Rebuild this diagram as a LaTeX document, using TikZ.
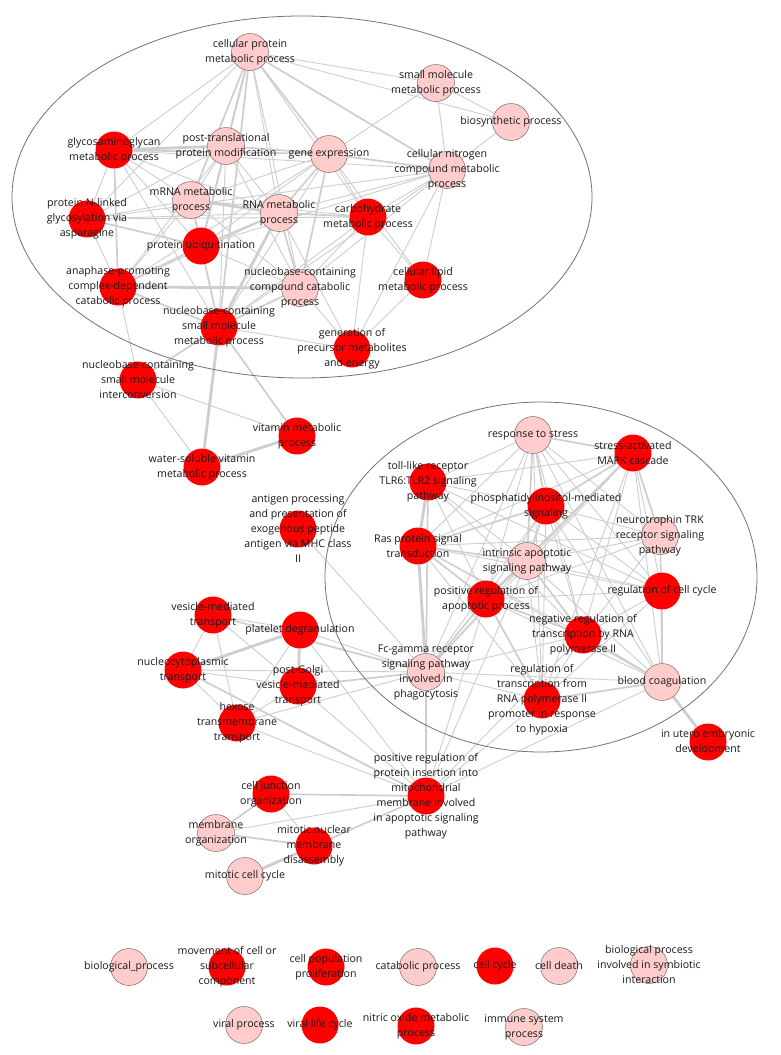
\documentclass[tikz,border=0pt]{standalone}
\usepackage{fontspec}
\setmainfont{Open Sans}
\pgfdeclarelayer{bg}
\pgfdeclarelayer{fg}
\pgfsetlayers{bg,main,fg}
\definecolor{pinkc}{RGB}{255,204,204}
\definecolor{redc}{RGB}{255,0,0}
\definecolor{bordc}{RGB}{120,110,110}
\definecolor{edgec}{RGB}{206,206,206}
\definecolor{ellc}{RGB}{115,115,115}
\definecolor{txtc}{RGB}{25,25,25}
\tikzset{
 pk/.style={circle, minimum size=37pt, inner sep=0pt, fill=pinkc, draw=bordc, line width=0.5pt},
 rd/.style={circle, minimum size=37pt, inner sep=0pt, fill=redc},
 lab/.style={align=center, font=\fontsize{10.6}{15}\selectfont, text=txtc, inner sep=0pt},
 e/.style={draw=edgec, line width=0.9pt},
 em/.style={draw=edgec, line width=1.7pt},
 et/.style={draw=edgec, line width=2.8pt},
 grp/.style={draw=ellc, line width=0.8pt}
}
\newcommand\nd[5]{\node[#4] (#1) at (#2,#3) {};
 \begin{pgfonlayer}{fg}\node[lab] (#1t) at (#2,#3) {#5};\end{pgfonlayer}}
\begin{document}
\begin{tikzpicture}[x=1pt,y=-1pt]
\begin{pgfonlayer}{bg}
\fill[white] (0,0) rectangle (780,1055);
\end{pgfonlayer}
\useasboundingbox (0,0) rectangle (780,1055);
% ---- top cluster
\nd{cpm}{250}{52}{pk}{cellular protein\\metabolic process}
\nd{smm}{436}{83}{pk}{small molecule\\metabolic process}
\nd{bio}{511}{122}{pk}{biosynthetic process}
\nd{cnc}{447}{170}{pk}{cellular nitrogen\\compound metabolic\\process}
\nd{gag}{114}{150}{rd}{glycosaminoglycan\\metabolic process}
\nd{ptm}{226}{146}{pk}{post-translational\\protein modification}
\nd{gex}{329}{154}{pk}{gene expression}
\nd{mrna}{191}{200}{pk}{mRNA metabolic\\process}
\nd{rna}{279}{213}{pk}{RNA metabolic\\process}
\nd{carb}{368}{217}{rd}{carbohydrate\\metabolic process}
\nd{pnl}{87}{219}{rd}{protein N-linked\\glycosylation via\\asparagine}
\nd{pub}{201}{246}{rd}{protein ubiquitination}
\nd{apc}{118}{287}{rd}{anaphase-promoting\\complex-dependent\\catabolic process}
\nd{ncc}{300}{288}{pk}{nucleobase-containing\\compound catabolic\\process}
\nd{clm}{423}{280}{rd}{cellular lipid\\metabolic process}
\nd{nsm}{219}{327}{rd}{nucleobase-containing\\small molecule\\metabolic process}
\nd{gpm}{352}{349}{rd}{generation of\\precursor metabolites\\and energy}
% ---- outside top
\nd{nsi}{138}{380}{rd}{nucleobase-containing\\small molecule\\interconversion}
\nd{vit}{297}{436}{rd}{vitamin metabolic\\process}
\nd{wsv}{202}{467}{rd}{water-soluble vitamin\\metabolic process}
\nd{agp}{298}{529}{rd}{antigen processing\\and presentation of\\exogenous peptide\\antigen via MHC class\\II}
% ---- second cluster
\nd{rts}{533}{435}{pk}{response to stress}
\nd{sam}{633}{453}{rd}{stress-activated\\MAPK cascade}
\nd{tlr}{428}{482}{rd}{toll-like receptor\\TLR6:TLR2 signaling\\pathway}
\nd{pims}{546}{506}{rd}{phosphatidylinositol-mediated\\signaling}
\nd{ntrk}{660}{536}{pk}{neurotrophin TRK\\receptor signaling\\pathway}
\nd{ras}{418}{546}{rd}{Ras protein signal\\transduction}
\nd{iap}{527}{561}{pk}{intrinsic apoptotic\\signaling pathway}
\nd{pra}{486}{599}{rd}{positive regulation of\\apoptotic process}
\nd{rcc}{662}{591}{rd}{regulation of cell cycle}
\nd{nrt}{583}{635}{rd}{negative regulation of\\transcription by RNA\\polymerase II}
\nd{fcg}{426}{672}{pk}{Fc-gamma receptor\\signaling pathway\\involved in\\phagocytosis}
\nd{rth}{542}{700}{rd}{regulation of\\transcription from\\RNA polymerase II\\promoter in response\\to hypoxia}
\nd{bco}{662}{682}{pk}{blood coagulation}
\nd{iue}{708}{742}{rd}{in utero embryonic\\development}
% ---- transport
\nd{vmt}{213}{615}{rd}{vesicle-mediated\\transport}
\nd{pdg}{300}{630}{rd}{platelet degranulation}
\nd{nct}{183}{670}{rd}{nucleocytoplasmic\\transport}
\nd{pgv}{298}{686}{rd}{post-Golgi\\vesicle-mediated\\transport}
\nd{htt}{237}{723}{rd}{hexose\\transmembrane\\transport}
% ---- bottom
\nd{prpi}{426}{796}{rd}{positive regulation of\\protein insertion into\\mitochondrial\\membrane involved\\in apoptotic signaling\\pathway}
\nd{cjo}{271}{794}{rd}{cell junction\\organization}
\nd{mor}{216}{833}{pk}{membrane\\organization}
\nd{mnm}{314}{846}{rd}{mitotic nuclear\\membrane\\disassembly}
\nd{mcc}{245}{876}{pk}{mitotic cell cycle}
% ---- isolated nodes
\nd{bp}{129}{967}{pk}{biological\_process}
\nd{mcs}{227}{967}{rd}{movement of cell or\\subcellular\\component}
\nd{cpp}{326}{967}{rd}{cell population\\proliferation}
\nd{cat}{418}{967}{pk}{catabolic process}
\nd{cc}{495}{966}{rd}{cell cycle}
\nd{cd}{559}{966}{pk}{cell death}
\nd{bsi}{649}{965}{pk}{biological process\\involved in symbiotic\\interaction}
\nd{vp}{244}{1025}{pk}{viral process}
\nd{vlc}{320}{1025}{rd}{viral life cycle}
\nd{nom}{416}{1026}{rd}{nitric oxide metabolic\\process}
\nd{isp}{524}{1027}{pk}{immune system\\process}
% ---- edges
\begin{pgfonlayer}{bg}
\foreach \a/\b in {cpm/gag,cpm/rna,cpm/ncc,cpm/smm,cpm/bio,cpm/pnl,cpm/carb,
 gag/pnl,gag/mrna,gag/pub,gag/rna,gag/nsm,gag/cnc,
 ptm/mrna,ptm/rna,ptm/apc,ptm/pnl,ptm/ncc,ptm/nsm,
 gex/mrna,gex/carb,gex/pub,gex/nsm,gex/smm,gex/apc,gex/clm,
 mrna/pnl,mrna/nsm,mrna/ncc,mrna/apc,mrna/carb,
 rna/cnc,rna/pnl,rna/gpm,rna/apc,
 carb/cnc,carb/clm,carb/gpm,carb/nsm,carb/pnl,carb/ncc,
 cnc/smm,cnc/bio,cnc/clm,cnc/gpm,cnc/nsm,cnc/ncc,cnc/pub,cnc/pnl,
 smm/bio,pnl/apc,pub/ncc,ncc/gpm,nsm/gpm,clm/gpm,nsi/wsv,nsi/vit,nsi/apc,
 rts/tlr,rts/ntrk,rts/ras,rts/pra,rts/rcc,rts/nrt,rts/fcg,rts/rth,rts/bco,
 sam/tlr,sam/ras,sam/iap,sam/rcc,sam/nrt,sam/fcg,sam/rth,sam/bco,
 tlr/pims,tlr/iap,tlr/pra,tlr/nrt,tlr/rcc,
 pims/ntrk,pims/pra,pims/rcc,pims/nrt,pims/fcg,pims/rth,pims/bco,
 ntrk/ras,ntrk/iap,ntrk/pra,ntrk/rcc,ntrk/nrt,ntrk/bco,
 ras/rcc,ras/nrt,ras/rth,ras/bco,
 iap/rcc,iap/fcg,iap/rth,iap/bco,
 pra/rcc,pra/bco,rcc/nrt,rcc/rth,nrt/fcg,nrt/rth,fcg/rth,fcg/bco,
 agp/fcg,
 vmt/pdg,vmt/nct,vmt/htt,vmt/pgv,pdg/htt,pdg/fcg,pdg/prpi,
 nct/pgv,nct/htt,nct/fcg,pgv/htt,htt/fcg,htt/prpi,pgv/prpi,
 prpi/rth,prpi/bco,prpi/nrt,prpi/pra,prpi/iap,prpi/mor,cjo/mnm}
 \draw[e] (\a) -- (\b);
\foreach \a/\b in {cpm/ptm,cpm/gex,cpm/mrna,cpm/pub,cpm/nsm,cpm/cnc,
 gag/gex,gag/apc,ptm/gex,ptm/pub,gex/rna,gex/cnc,gex/ncc,mrna/pub,
 rna/ncc,rna/carb,rna/pub,pnl/pub,pub/apc,pub/nsm,apc/nsm,ncc/nsm,
 nsm/nsi,nsm/vit,
 rts/sam,rts/pims,rts/iap,sam/pims,sam/ntrk,sam/pra,tlr/fcg,pims/ras,pims/iap,
 ras/iap,ras/pra,iap/pra,iap/nrt,pra/nrt,pra/fcg,pra/rth,rcc/bco,nrt/bco,rth/bco,
 fcg/prpi,pgv/fcg,vmt/fcg,
 prpi/cjo,prpi/mnm,prpi/nct,cjo/mor,mor/mnm}
 \draw[em] (\a) -- (\b);
\foreach \a/\b in {gag/ptm,mrna/rna,rna/nsm,apc/ncc,nsm/wsv,wsv/vit,
 tlr/ras,ras/fcg,bco/iue,pdg/nct,pdg/pgv,mnm/mcc}
 \draw[et] (\a) -- (\b);
\draw[grp] (302,197) ellipse [x radius=290, y radius=181];
\draw[grp] (541,577) ellipse [x radius=216, y radius=175];
\end{pgfonlayer}
\end{tikzpicture}
\end{document}
